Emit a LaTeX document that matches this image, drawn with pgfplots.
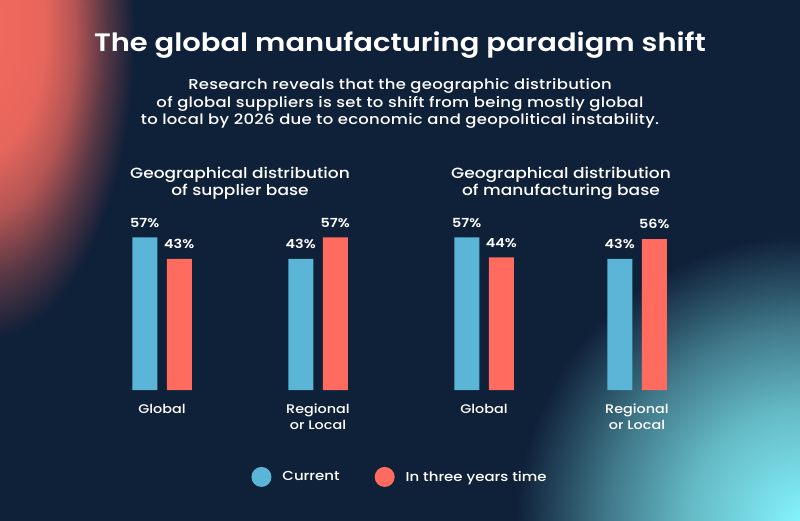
\documentclass[border=0pt]{standalone}
\usepackage{fontspec}
\setmainfont{Poppins}[UprightFont={* Medium}, BoldFont={* SemiBold}, FakeStretch=1.15]
\usepackage{pgfplots}
\pgfplotsset{compat=1.18}
\definecolor{navy}{HTML}{0F2039}
\definecolor{coral}{HTML}{F46A5E}
\definecolor{cyanglow}{HTML}{86F6FD}
\definecolor{cblue}{HTML}{5BB5D6}
\definecolor{cred}{HTML}{FF6B5E}
\pgfdeclareradialshading{coralglow}{\pgfpoint{0bp}{0bp}}{color(0bp)=(coral); color(10bp)=(coral!94!navy); color(15bp)=(coral!72!navy); color(20bp)=(coral!32!navy); color(25bp)=(navy); color(50bp)=(navy)}
\pgfdeclareradialshading{cyanglowsh}{\pgfpoint{0bp}{0bp}}{color(0bp)=(cyanglow); color(10bp)=(cyanglow!72!navy); color(17bp)=(cyanglow!42!navy); color(22bp)=(cyanglow!15!navy); color(25bp)=(navy); color(50bp)=(navy)}
\pgfplotsset{
  barchart/.style={
    scale only axis, height=153.6pt,
    ymin=0, ymax=100, xmin=-0.5, xmax=1.5,
    axis line style={draw=none}, ymajorticks=false,
    xtick={0,1}, major tick length=0pt,
    ybar=9.5pt, bar width=25pt,
    y filter/.expression={y+42.3},
    point meta=explicit,
    /pgf/number format/assume math mode=true,
    nodes near coords={\pgfmathprintnumber{\pgfplotspointmeta}\%},
    every node near coord/.append style={font=\bfseries\fontsize{12.5}{14}\selectfont, text=white, anchor=south, inner sep=0pt, yshift=10pt},
    xticklabel style={text=white, align=center, font=\fontsize{12.5}{16}\selectfont, anchor=north, inner sep=0pt, yshift=-14pt},
    clip=false,
  },
}
\newcommand\subfont{\fontsize{14.3}{17.5}\selectfont\addfontfeatures{LetterSpace=2}}
\begin{document}
\begin{tikzpicture}[x=1pt,y=1pt]
\useasboundingbox (0,0) rectangle (800,520);
\fill[navy] (-5,-5) rectangle (805,525);
\begin{scope}
\clip (-2,-2) rectangle (802,522);
\shade[shading=coralglow] (-15,490) ellipse [x radius=150, y radius=310];
\shade[shading=cyanglowsh] (805,-5) circle (290);
\end{scope}
\node[text=white, anchor=base, font=\bfseries\fontsize{25.2}{30}\selectfont] at (400,468) {The global manufacturing paradigm shift};
\node[text=white, anchor=base, font=\subfont] at (400,430) {Research reveals that the geographic distribution};
\node[text=white, anchor=base, font=\subfont] at (400,412.3) {of global suppliers is set to shift from being mostly global};
\node[text=white, anchor=base, font=\subfont] at (400,395) {to local by 2026 due to economic and geopolitical instability.};
\node[text=white, anchor=base, font=\fontsize{14.8}{17}\selectfont] at (240,341) {Geographical distribution};
\node[text=white, anchor=base, font=\fontsize{14.8}{17}\selectfont] at (240,324.3) {of supplier base};
\node[text=white, anchor=base, font=\fontsize{14.8}{17}\selectfont] at (561,341) {Geographical distribution};
\node[text=white, anchor=base, font=\fontsize{14.8}{17}\selectfont] at (561,324.3) {of manufacturing base};

\begin{axis}[barchart, at={(84pt,130pt)}, anchor=south west, width=312pt,
  xticklabels={Global, Regional\\or Local},
  legend style={at={(1.0128,-0.566)}, anchor=center, draw=none, fill=none, text=white,
    font=\fontsize{13}{15}\selectfont, legend columns=2,
    /tikz/every even column/.append style={column sep=33pt}},
  legend image code/.code={\fill[#1] (0pt,0pt) circle (10pt); \path (19pt,0pt);},
]
\addplot[fill=cblue, draw=none] coordinates {(0,57) [57] (1,43) [43]};
\addplot[fill=cred, draw=none] coordinates {(0,43) [43] (1,57) [57]};
\legend{Current, In three years time}
\end{axis}

\begin{axis}[barchart, at={(407.5pt,130pt)}, anchor=south west, width=306pt,
  xticklabels={Global, Regional\\or Local},
]
\addplot[fill=cblue, draw=none] coordinates {(0,57) [57] (1,43) [43]};
\addplot[fill=cred, draw=none] coordinates {(0,44) [44] (1,56) [56]};
\end{axis}
\end{tikzpicture}
\end{document}
